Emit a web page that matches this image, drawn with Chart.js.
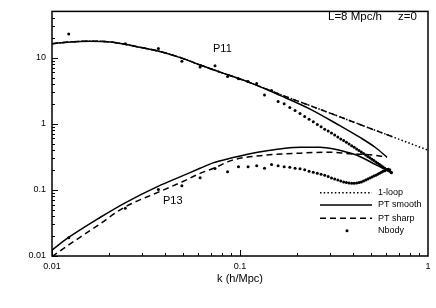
<!DOCTYPE html>
<html><head><meta charset="utf-8">
<script src="https://cdn.jsdelivr.net/npm/chart.js@4/dist/chart.umd.min.js"></script>
<style>html,body{margin:0;padding:0;background:#fff}#wrap{width:436px;height:308px}</style>
</head><body><div id="wrap"><canvas id="c" width="436" height="308"></canvas></div>
<script>
// N-body k bins (h/Mpc)
const kNbody=[0.01227,0.02454,0.03681,0.04908,0.06135,0.07362,0.08589,0.09816,0.1104,0.1227,0.1350,0.1472,0.1595,0.1718,0.1841,0.1963,0.2086,0.2209,0.2331,0.2454,0.2577,0.2699,0.2822,0.2945,0.3068,0.3190,0.3313,0.3436,0.3558,0.3681,0.3804,0.3926,0.4049,0.4172,0.4295,0.4417,0.4540,0.4663,0.4785,0.4908,0.5031,0.5153,0.5276,0.5399,0.5522,0.5644,0.5767,0.5890,0.6012,0.6135,0.6258,0.6380];
const p11Nbody=[22.8,16.2,13.7,8.79,7.23,7.56,5.19,4.80,4.34,4.05,2.72,3.19,2.17,2.00,1.756,1.585,1.431,1.292,1.166,1.071,0.976,0.903,0.829,0.774,0.723,0.675,0.631,0.589,0.560,0.523,0.494,0.464,0.441,0.416,0.394,0.374,0.356,0.338,0.321,0.305,0.291,0.277,0.264,0.252,0.241,0.231,0.221,0.213,0.204,0.198,0.191,0.185];
const p13Nbody=[0.0189,0.0527,0.101,0.115,0.153,0.210,0.188,0.223,0.223,0.231,0.212,0.241,0.231,0.223,0.219,0.212,0.208,0.201,0.191,0.185,0.179,0.173,0.167,0.159,0.151,0.146,0.141,0.136,0.132,0.129,0.127,0.126,0.126,0.127,0.129,0.132,0.136,0.141,0.146,0.151,0.156,0.162,0.167,0.173,0.179,0.185,0.191,0.194,0.201,0.205,0.201,0.182];

// P11 curves
const kP11Smooth=[0.01,0.0125,0.0159,0.0204,0.0245,0.0294,0.0366,0.0491,0.0613,0.0783,0.113,0.163,0.236,0.340,0.435,0.523,0.605];
const p11Smooth=[16.2,17.3,17.7,17.3,15.9,14.3,12.6,9.83,7.74,6.04,4.19,2.69,1.667,0.934,0.620,0.441,0.313];
const kP11Loop=[0.01,0.0125,0.0159,0.0204,0.0245,0.0294,0.0366,0.0491,0.0613,0.0783,0.113,0.163,0.236,0.340,0.474,0.651,0.802,1.0];
const p11Loop=[16.2,17.3,17.7,17.3,15.9,14.3,12.6,9.83,7.74,6.04,4.19,2.78,1.88,1.27,0.887,0.631,0.505,0.398];
const kP11Sharp=[0.01,0.0125,0.0159,0.0204,0.0245,0.0294,0.0366,0.0491,0.0613,0.0783,0.113,0.163,0.236,0.340,0.474,0.651];
const p11Sharp=[16.2,17.3,17.7,17.3,15.9,14.3,12.6,9.83,7.74,6.04,4.19,2.78,1.88,1.27,0.887,0.631];

// P13 curves
const kP13Smooth=[0.01,0.0122,0.0180,0.0245,0.0366,0.0497,0.0613,0.0719,0.0918,0.113,0.139,0.174,0.209,0.266,0.320,0.362,0.409,0.462,0.523,0.628];
const p13Smooth=[0.0123,0.0189,0.0382,0.0637,0.1127,0.164,0.212,0.256,0.308,0.353,0.391,0.426,0.441,0.441,0.412,0.378,0.342,0.293,0.243,0.188];
const kP13Sharp=[0.01,0.0122,0.0180,0.0239,0.0366,0.0497,0.0613,0.0719,0.0918,0.139,0.209,0.301,0.385,0.491,0.605];
const p13Sharp=[0.0098,0.01455,0.0305,0.0532,0.0918,0.1336,0.1774,0.2104,0.2831,0.3357,0.3594,0.3719,0.3509,0.3391,0.313];

const xTicks=[0.01,0.1,1];
const xTickLabels=['0.01','0.1','1'];
const yTicks=[0.01,0.1,1,10];
const yTickLabels=['0.01','0.1','1','10'];
const legendLabels=['1-loop','PT smooth','PT sharp','Nbody'];
const xTitle='k (h/Mpc)';

const pts=(xs,ys)=>xs.map((v,i)=>({x:v,y:ys[i]}));
const DASH=[6,4], DOT=[1.5,2.2];
const lineDs=(data,dash)=>({data,showLine:true,borderColor:'#000',borderWidth:1.5,borderDash:dash,pointRadius:0,fill:false,cubicInterpolationMode:'monotone'});
const dotDs=(data)=>({data,showLine:false,pointRadius:1.5,pointBackgroundColor:'#000',pointBorderWidth:0,borderColor:'#000'});

const FONT='"Liberation Sans", Arial, Helvetica, sans-serif';

const deco={id:'deco',afterDraw(chart){
  const {ctx,chartArea:a,scales:{x,y}}=chart;
  ctx.save();
  ctx.strokeStyle='#000';
  ctx.lineWidth=1;
  const seg=(x1,y1,x2,y2)=>{ctx.beginPath();ctx.moveTo(x1,y1);ctx.lineTo(x2,y2);ctx.stroke();};
  for(let d=-2;d<0;d++){for(let m=1;m<10;m++){const v=m*Math.pow(10,d);const px=Math.round(x.getPixelForValue(v))+0.5;seg(px,a.bottom,px,a.bottom-(m===1?6:3));}}
  for(let d=-2;d<2;d++){for(let m=1;m<10;m++){const v=m*Math.pow(10,d);if(v>=50)continue;const py=Math.round(y.getPixelForValue(v))+0.5;seg(a.left,py,a.left+(m===1?6:3),py);}}
  ctx.lineWidth=1.5;
  ctx.strokeRect(a.left,a.top,a.right-a.left,a.bottom-a.top);
  ctx.fillStyle='#000';
  ctx.textBaseline='middle';ctx.textAlign='left';
  ctx.font='11px '+FONT;
  ctx.fillText('P11',213,49);
  ctx.fillText('P13',163,201);
  ctx.font='11.5px '+FONT;
  ctx.fillText('L=8 Mpc/h',328,17);
  ctx.fillText('z=0',398,17);
  ctx.font='11px '+FONT;ctx.textAlign='center';
  ctx.fillText(xTitle,240,279);
  // legend
  const rows=[192.7,205,218.3,230.7];
  const styles=[DOT,[],DASH,null];
  ctx.font='9px '+FONT;ctx.textAlign='left';
  rows.forEach((ry,i)=>{
    if(styles[i]){ctx.lineWidth=1.5;ctx.setLineDash(styles[i]);seg(320,ry,372,ry);ctx.setLineDash([]);}
    else{ctx.beginPath();ctx.arc(347,ry,1.5,0,Math.PI*2);ctx.fill();}
    ctx.fillText(legendLabels[i],378,ry);
  });
  ctx.restore();
}};

new Chart(document.getElementById('c'),{
  type:'scatter',
  data:{datasets:[
    lineDs(pts(kP11Loop,p11Loop),DOT),
    lineDs(pts(kP11Smooth,p11Smooth),[]),
    lineDs(pts(kP11Sharp,p11Sharp),DASH),
    dotDs(pts(kNbody,p11Nbody)),
    lineDs(pts(kP13Smooth,p13Smooth),[]),
    lineDs(pts(kP13Sharp,p13Sharp),DASH),
    dotDs(pts(kNbody,p13Nbody))
  ]},
  options:{
    responsive:false,animation:false,devicePixelRatio:1,
    layout:{padding:{left:0,right:8,top:5,bottom:0}},
    plugins:{legend:{display:false},tooltip:{enabled:false}},
    scales:{
      x:{type:'logarithmic',min:0.01,max:1,
        grid:{display:false,drawTicks:false},border:{display:false},
        afterBuildTicks:s=>{s.ticks=xTicks.map(v=>({value:v}));},
        afterFit:s=>{s.height=52;},
        ticks:{autoSkip:false,maxRotation:0,padding:5,color:'#000',font:{size:9,family:FONT},
          callback:(v)=>{const i=xTicks.indexOf(v);return i>=0?xTickLabels[i]:'';}}},
      y:{type:'logarithmic',min:0.01,max:50,
        grid:{display:false,drawTicks:false},border:{display:false},
        afterBuildTicks:s=>{s.ticks=yTicks.map(v=>({value:v}));},
        afterFit:s=>{s.width=52;},
        ticks:{autoSkip:false,padding:6,color:'#000',font:{size:9,family:FONT},
          callback:(v)=>{const i=yTicks.indexOf(v);return i>=0?yTickLabels[i]:'';}}}
    }
  },
  plugins:[deco]
});
</script></body></html>
